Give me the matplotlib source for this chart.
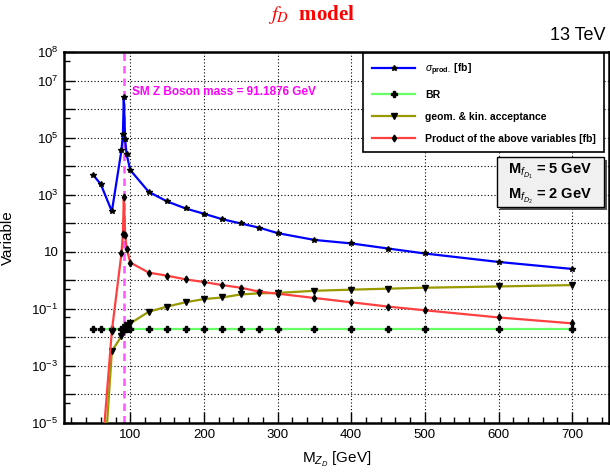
import matplotlib
matplotlib.use("Agg")
import matplotlib.pyplot as plt
import matplotlib.ticker as tick
from matplotlib.patches import Rectangle

plt.rcParams['font.family'] = ['Liberation Sans', 'DejaVu Sans']
plt.rcParams['mathtext.fontset'] = 'custom'
plt.rcParams['mathtext.rm'] = 'Liberation Sans'
plt.rcParams['mathtext.it'] = 'Liberation Sans:italic'
plt.rcParams['mathtext.bf'] = 'Liberation Sans:bold'

# Z_D mass points [GeV]
mass = [50, 60, 75, 88, 90, 91.1876, 93, 95, 100, 125, 150, 175, 200, 225,
        250, 275, 300, 350, 400, 450, 500, 600, 700]

sigma_prod = [4800, 2300, 260, 36000, 130000, 2.6e6, 87000, 26000, 7300,
              1260, 580, 330, 215, 138, 98, 70, 45, 26, 19.6, 13, 8.7, 4.4,
              2.5]
br = [0.019] * 23
acceptance = [1e-10, 5e-9, 0.0033, 0.011, 0.016, 0.02, 0.024, 0.027, 0.031,
              0.079, 0.12, 0.17, 0.22, 0.25, 0.32, 0.35, 0.36, 0.43, 0.47,
              0.51, 0.55, 0.61, 0.68]
product = [1e-8, 2.3e-7, 0.017, 8.7, 41, 830, 40, 13, 4.2, 1.86, 1.45, 1.08,
           0.87, 0.68, 0.55, 0.40, 0.34, 0.24, 0.17, 0.12, 0.089, 0.050, 0.031]

z_mass = 91.1876

W, H = 610, 474
fig = plt.figure(figsize=(W / 100, H / 100), dpi=100)
ax = fig.add_axes([64 / W, 1 - 423 / H, 545 / W, 371 / H])

s1, = ax.plot(mass, sigma_prod, '-', color='#0000ff', lw=1.6,
              marker='*', ms=4, mfc='black', mec='black', zorder=3)
s2, = ax.plot(mass, br, '-', color='#66ff66', lw=1.6,
              marker='P', ms=5, mfc='black', mec='black', zorder=3)
s3, = ax.plot(mass, acceptance, '-', color='#999900', lw=1.6,
              marker='v', ms=5, mfc='black', mec='black', zorder=3)
s4, = ax.plot(mass, product, '-', color='#ff4040', lw=1.6,
              marker='d', ms=3.5, mfc='black', mec='black', zorder=3)

ax.axvline(z_mass, color='#ff55ff', ls=(0, (3, 2)), lw=1.8, zorder=2)
ax.text(102, 4e6, "SM Z Boson mass = 91.1876 GeV", color='#ff00ff',
        fontsize=8.5, fontweight='bold', va='center', ha='left', zorder=4)

ax.set_yscale('log')
ax.set_xlim(10, 750)
ax.set_ylim(1e-5, 1e8)

ax.xaxis.set_major_locator(tick.MultipleLocator(100))
ax.xaxis.set_minor_locator(tick.MultipleLocator(20))
ax.yaxis.set_major_locator(tick.FixedLocator([10.0 ** k for k in range(-5, 9)]))
ax.yaxis.set_minor_locator(tick.FixedLocator([5 * 10.0 ** k for k in range(-6, 8)]))
ylabels = {8: r'$10^{8}$', 7: r'$10^{7}$', 5: r'$10^{5}$', 3: r'$10^{3}$',
           1: '10', -1: r'$10^{-1}$', -3: r'$10^{-3}$', -5: r'$10^{-5}$'}
ax.yaxis.set_major_formatter(tick.FixedFormatter(
    [ylabels.get(k, '') for k in range(-5, 9)]))
ax.yaxis.set_minor_formatter(tick.NullFormatter())

ax.tick_params(which='major', direction='in', length=8, width=1,
               labelsize=9.5, pad=4)
ax.tick_params(which='minor', direction='in', length=4, width=1)
ax.grid(True, which='major', color='black', ls=(0, (1, 2)), lw=0.8)
for sp in ax.spines.values():
    sp.set_linewidth(1.8)

ax.set_xlabel(r"M$_{Z_{D}}$ [GeV]", fontsize=11, labelpad=7)
ax.set_ylabel("Variable", fontsize=11)
ax.yaxis.set_label_coords(-0.09, 0.5)

leg = ax.legend([s1, s2, s3, s4],
                [r"$\sigma_{\bf prod.}$ [fb]", "BR",
                 "geom. & kin. acceptance",
                 "Product of the above variables [fb]"],
                loc='upper right', bbox_to_anchor=(604 / W, 1 - 53 / H),
                bbox_transform=fig.transFigure, borderaxespad=0,
                prop={'weight': 'bold', 'size': 7.5}, frameon=True,
                fancybox=False, edgecolor='black', framealpha=1,
                handlelength=4.2, labelspacing=1.15, borderpad=0.8,
                handletextpad=0.9, markerscale=1.0)
leg.get_frame().set_linewidth(1.2)
leg.set_zorder(5)

# mass box with shadow
fig.patches.append(Rectangle((500 / W, 1 - 210 / H), 107 / W, 50 / H,
                             transform=fig.transFigure, facecolor='#555555',
                             edgecolor='none', zorder=5))
fig.patches.append(Rectangle((497 / W, 1 - 207 / H), 107 / W, 50 / H,
                             transform=fig.transFigure, facecolor='#f0f0f0',
                             edgecolor='black', lw=1, zorder=6))
fig.text(550 / W, 1 - 171 / H, r"M$_{f_{D_1}}$ = 5 GeV", ha='center',
         va='center', fontsize=10.5, fontweight='bold', zorder=7)
fig.text(550 / W, 1 - 196 / H, r"M$_{f_{D_2}}$ = 2 GeV", ha='center',
         va='center', fontsize=10.5, fontweight='bold', zorder=7)

fig.text(311 / W, 1 - 14 / H, r"$f_D$  model", color='red', ha='center',
         va='center', fontsize=15, fontweight='bold',
         family='Liberation Serif', math_fontfamily='stix')
fig.text(606 / W, 1 - 36 / H, "13 TeV", ha='right', va='center', fontsize=13)

fig.savefig("out.png", dpi=100)
